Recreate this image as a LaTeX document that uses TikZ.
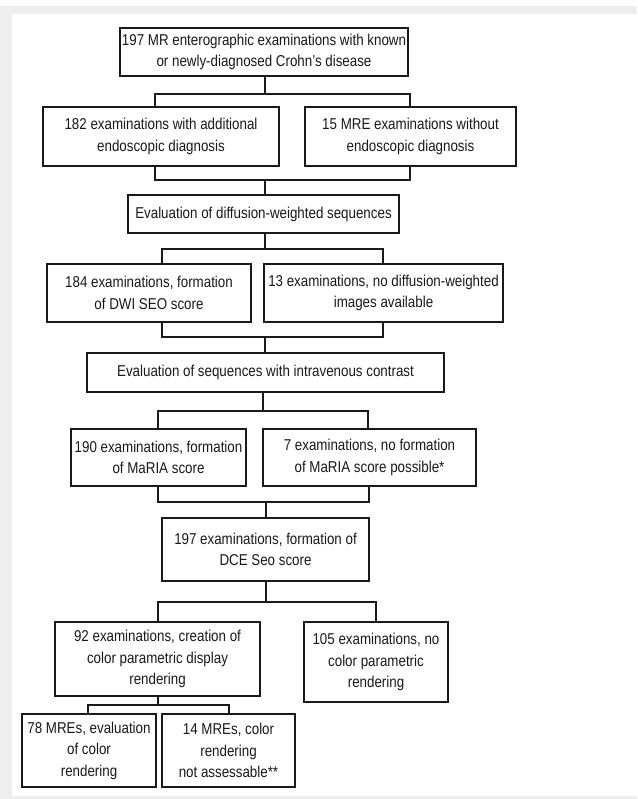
\documentclass[tikz,border=0pt]{standalone}
\usepackage{fontspec}
\setmainfont{Liberation Sans}[FakeStretch=0.85]
\usepackage{tikz}
\definecolor{framegray}{HTML}{EEEEEE}
\definecolor{ink}{HTML}{1A1A1A}

\begin{document}
\begin{tikzpicture}[x=1pt,y=-1pt,
    box/.style={draw=ink, line width=2.1pt, rectangle, inner sep=0pt, align=center,
        text=ink, font=\fontsize{15.7}{21.5}\selectfont},
    link/.style={draw=ink, line width=2.1pt, line cap=rect}]
                % Frame
                \useasboundingbox (0,0) rectangle (637,799);
                \fill[framegray] (0,6) rectangle (637,799);
                \fill[white] (12,14) rectangle (637,796);

                % Boxes
                \node[box, minimum width=288pt, minimum height=48pt] (all) at (264,52)
                    {197 MR enterographic examinations with known\\or newly-diagnosed Crohn's disease};
                \node[box, minimum width=236pt, minimum height=59pt] (endo) at (161,136.5)
                    {182 examinations with additional\\endoscopic diagnosis};
                \node[box, minimum width=211pt, minimum height=59pt] (noendo) at (410.5,136.5)
                    {15 MRE examinations without\\endoscopic diagnosis};
                \node[box, minimum width=271pt, minimum height=38pt] (dwi) at (263.5,214)
                    {Evaluation of diffusion-weighted sequences};
                \node[box, minimum width=204pt, minimum height=58pt] (seo) at (149,293)
                    {184 examinations, formation\\of DWI SEO score};
                \node[box, minimum width=239pt, minimum height=58pt] (noseo) at (383.5,293)
                    {13 examinations, no diffusion-weighted\\images available};
                \node[box, minimum width=357pt, minimum height=39pt] (contrast) at (265.5,372.5)
                    {Evaluation of sequences with intravenous contrast};
                \node[box, minimum width=175pt, minimum height=57pt] (maria) at (158.5,457.5)
                    {190 examinations, formation\\of MaRIA score};
                \node[box, minimum width=213pt, minimum height=57pt] (nomaria) at (369.5,457.5)
                    {7 examinations, no formation\\of MaRIA score possible*};
                \node[box, minimum width=207pt, minimum height=63pt] (dce) at (265.5,549.5)
                    {197 examinations, formation of\\DCE Seo score};
                \node[box, minimum width=205pt, minimum height=74pt] (color) at (157.5,659)
                    {92 examinations, creation of\\color parametric display\\rendering};
                \node[box, minimum width=144pt, minimum height=80pt] (nocolor) at (376,662)
                    {105 examinations, no\\color parametric\\rendering};
                \node[box, minimum width=134pt, minimum height=73pt] (eval) at (89,750.5)
                    {78 MREs, evaluation\\of color\\rendering};
                \node[box, minimum width=133pt, minimum height=73pt] (noeval) at (228.5,750.5)
                    {14 MREs, color\\rendering\\not assessable**};

                % Junctions
                \coordinate (s1l) at (155,94);   \coordinate (s1r) at (410,94);
                \coordinate (m1l) at (155,180);  \coordinate (m1r) at (410,180);
                \coordinate (s2l) at (162,249);  \coordinate (s2r) at (383,249);
                \coordinate (m2l) at (162,337);  \coordinate (m2r) at (383,337);
                \coordinate (s3l) at (158,411);  \coordinate (s3r) at (368,411);
                \coordinate (m3l) at (158,502);  \coordinate (m3r) at (369,502);
                \coordinate (s4l) at (158,602);  \coordinate (s4r) at (376,602);
                \coordinate (s5l) at (88,705);   \coordinate (s5r) at (229,705);

                % Connectors
                \draw[link] (all.south -| 265,0) -- (265,94);
                \draw[link] (endo.north -| s1l) -- (s1l) -- (s1r) -- (noendo.north -| s1r);
                \draw[link] (endo.south -| m1l) -- (m1l) -- (m1r) -- (noendo.south -| m1r);
                \draw[link] (265,180) -- (dwi.north -| 265,0);

                \draw[link] (dwi.south -| 265,0) -- (265,249);
                \draw[link] (seo.north -| s2l) -- (s2l) -- (s2r) -- (noseo.north -| s2r);
                \draw[link] (seo.south -| m2l) -- (m2l) -- (m2r) -- (noseo.south -| m2r);
                \draw[link] (265,337) -- (contrast.north -| 265,0);

                \draw[link] (contrast.south -| 263,0) -- (263,411);
                \draw[link] (maria.north -| s3l) -- (s3l) -- (s3r) -- (nomaria.north -| s3r);
                \draw[link] (maria.south -| m3l) -- (m3l) -- (m3r) -- (nomaria.south -| m3r);
                \draw[link] (266,502) -- (dce.north -| 266,0);

                \draw[link] (dce.south -| 266,0) -- (266,602);
                \draw[link] (color.north -| s4l) -- (s4l) -- (s4r) -- (nocolor.north -| s4r);

                \draw[link] (color.south -| 158,0) -- (158,705);
                \draw[link] (eval.north -| s5l) -- (s5l) -- (s5r) -- (noeval.north -| s5r);
            \end{tikzpicture}
\end{document}
